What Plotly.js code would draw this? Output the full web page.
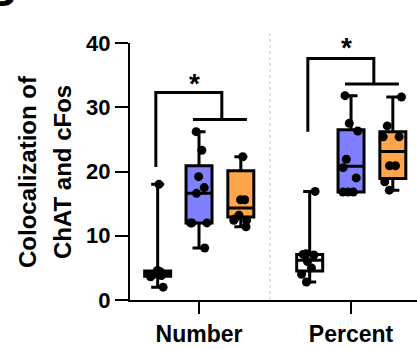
<!DOCTYPE html>
<html>
<head>
<meta charset="utf-8">
<script src="https://cdn.plot.ly/plotly-3.0.1.min.js"></script>
<style>html,body{margin:0;padding:0;background:#fff;}#chart{width:417px;height:349px;}</style>
</head>
<body>
<div id="chart"></div>
<script>
// ---- data ----
const categories = ["Number", "Percent"];
const groupNames = ["Control", "GroupB", "GroupC"];
// raw sample values [Number, Percent] per group
const controlNumber = [18.0, 4.6, 4.4, 4.2, 4.0, 3.8, 3.6, 2.0];
const controlPercent = [16.9, 7.2, 7.1, 7.0, 6.0, 5.0, 4.0, 2.8];
const blueNumber = [26.2, 23.3, 19.2, 17.5, 16.6, 12.0, 12.0, 12.0, 8.1];
const bluePercent = [31.8, 27.5, 26.3, 21.9, 20.6, 19.0, 16.8, 16.8, 16.8];
const orangeNumber = [22.3, 15.6, 15.6, 13.2, 12.6, 12.4, 12.4, 11.4];
const orangePercent = [31.6, 27.1, 25.4, 25.4, 20.9, 20.9, 18.4, 17.1];
// box statistics [Number, Percent]
const controlStats = {min: [2.0, 2.8], q1: [3.7, 4.5], med: [4.1, 6.2], q3: [4.5, 7.1], max: [18.0, 16.9]};
const blueStats = {min: [8.1, 16.8], q1: [12.0, 16.8], med: [16.6, 20.8], q3: [20.9, 26.5], max: [26.2, 31.8]};
const orangeStats = {min: [11.4, 17.1], q1: [12.9, 18.9], med: [14.3, 23.1], q3: [20.1, 26.2], max: [22.3, 31.6]};
// significance brackets: [left leg bottom, top, right leg bottom] per category
const bracketLeftBottom = [20.7, 26.2];
const bracketTop = [32.3, 37.6];
const bracketRightBottom = [28.1, 33.6];
const starY = [34.3, 40.0];
const yTicks = [0, 10, 20, 30, 40];
const yTitle = ["Colocalization of", "ChAT and cFos"];

// ---- layout helpers ----
const offsets = [-0.272, 0, 0.275];
const boxW = 0.171;
const fills = ["#ffffff", "#8080ff", "#ffa64d"];
const samples = [[controlNumber, controlPercent], [blueNumber, bluePercent], [orangeNumber, orangePercent]];
const stats = [controlStats, blueStats, orangeStats];
const FONT = "Liberation Sans, Arial, Helvetica, sans-serif";

const traces = [];
// boxes from precomputed stats
stats.forEach((s, g) => {
  traces.push({
    type: "box",
    x: categories.map((c, i) => i + offsets[g]),
    q1: s.q1, median: s.med, q3: s.q3, lowerfence: s.min, upperfence: s.max,
    width: boxW, whiskerwidth: 0.5,
    fillcolor: fills[g], line: {color: "#000", width: 3},
    boxpoints: false, hoverinfo: "skip", showlegend: false
  });
});
// sample points
samples.forEach((arr, g) => {
  const xs = [], ys = [];
  arr.forEach((vals, i) => vals.forEach(v => { xs.push(i + offsets[g]); ys.push(v); }));
  traces.push({
    type: "box", x: xs, y: ys, width: boxW,
    fillcolor: "rgba(0,0,0,0)", line: {color: "rgba(0,0,0,0)", width: 0},
    boxpoints: "all", jitter: 0.85, pointpos: 0,
    marker: {color: "#000", size: 9},
    hoverinfo: "skip", showlegend: false
  });
});
// brackets
categories.forEach((c, i) => {
  const xl = i + offsets[0] - 0.012, xr = i + 0.15;
  traces.push({
    type: "scatter", mode: "lines", cliponaxis: false, hoverinfo: "skip", showlegend: false,
    x: [xl, xl, xr, xr], y: [bracketLeftBottom[i], bracketTop[i], bracketTop[i], bracketRightBottom[i]],
    line: {color: "#000", width: 3}
  });
  traces.push({
    type: "scatter", mode: "lines", cliponaxis: false, hoverinfo: "skip", showlegend: false,
    x: [i + offsets[1] - 0.04, i + offsets[2] + 0.04], y: [bracketRightBottom[i], bracketRightBottom[i]],
    line: {color: "#000", width: 3}
  });
});

const annotations = categories.map((c, i) => ({
  x: i - 0.03, y: starY[i], xref: "x", yref: "y", text: "<b>*</b>", showarrow: false,
  font: {family: FONT, size: 28, color: "#000"}, xanchor: "center", yanchor: "middle", yshift: -4
}));
annotations.push({
  xref: "paper", yref: "paper", x: 0, y: 0.498, xanchor: "center", yanchor: "middle",
  xshift: -103, text: "<b>" + yTitle[0] + "</b>", textangle: -90, showarrow: false,
  font: {family: FONT, size: 24, color: "#000"}
});
annotations.push({
  xref: "paper", yref: "paper", x: 0, y: 0.498, xanchor: "center", yanchor: "middle",
  xshift: -68, text: "<b>" + yTitle[1] + "</b>", textangle: -90, showarrow: false,
  font: {family: FONT, size: 24, color: "#000"}
});
annotations.push({
  xref: "paper", yref: "paper", x: 0, y: 1, xanchor: "right", yanchor: "bottom",
  xshift: -112, yshift: 26, text: "<b>B</b>", showarrow: false,
  font: {family: FONT, size: 44, color: "#000"}
});

const layout = {
  width: 417, height: 349,
  margin: {l: 130, r: 0, t: 43, b: 49},
  paper_bgcolor: "#fff", plot_bgcolor: "#fff",
  boxmode: "overlay", showlegend: false,
  xaxis: {
    range: [-0.454, 1.434], tickvals: [0, 1], ticktext: categories.map(c => "<b>" + c + "</b>"),
    ticks: "outside", ticklen: 12, tickwidth: 2, tickcolor: "#000",
    showline: true, linecolor: "#000", linewidth: 2, showgrid: false, zeroline: false,
    tickfont: {family: FONT, size: 23, color: "#000"}
  },
  yaxis: {
    range: [0, 40], tickvals: yTicks, ticktext: yTicks.map(t => "<b>" + t + "</b>"),
    ticks: "outside", ticklen: 13, tickwidth: 2, tickcolor: "#000",
    showline: true, linecolor: "#000", linewidth: 2, showgrid: false, zeroline: false,
    tickfont: {family: FONT, size: 22, color: "#000"}
  },
  shapes: [{
    type: "line", xref: "x", yref: "paper", x0: 0.467, x1: 0.467, y0: 0, y1: 1.05,
    line: {color: "#c8c8c8", width: 1, dash: "dot"}
  }],
  annotations: annotations
};

Plotly.newPlot("chart", traces, layout, {staticPlot: true, displayModeBar: false});
</script>
</body>
</html>
